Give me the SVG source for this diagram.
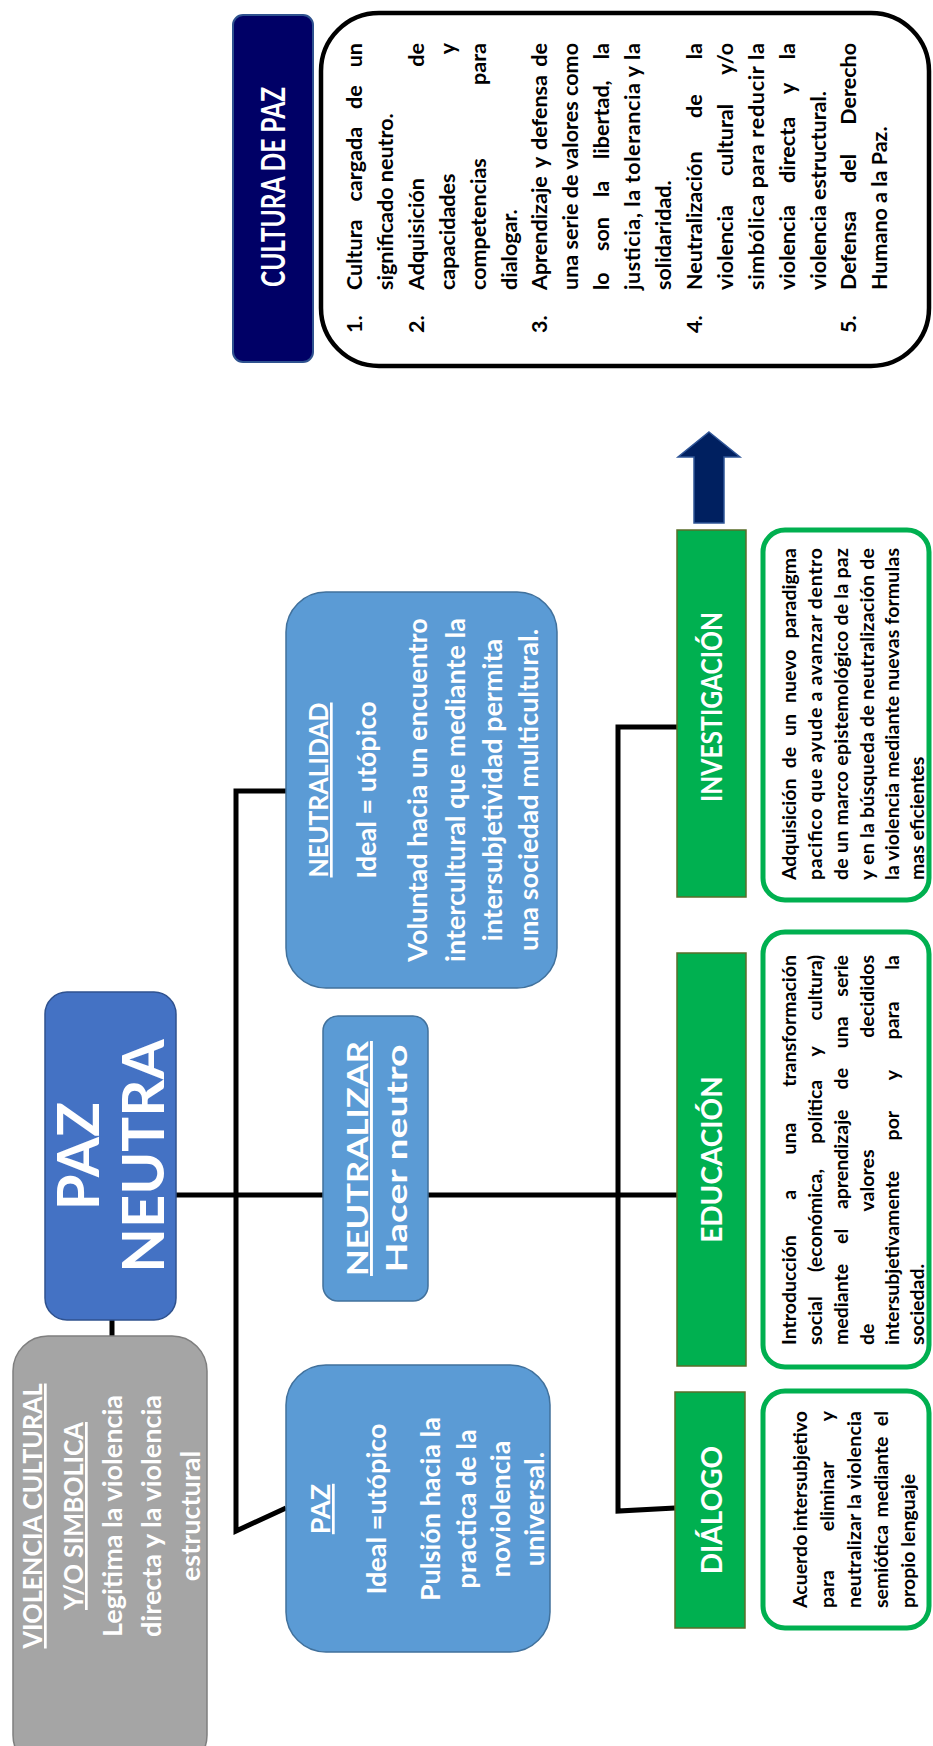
<svg xmlns="http://www.w3.org/2000/svg" width="933" height="1746" viewBox="0 0 933 1746">
<style>
.t{font-family:Lato,'Open Sans','Liberation Sans',sans-serif;font-weight:700}
.w{fill:#fff}
.k{fill:#000}
.c{text-anchor:middle}
.e{text-anchor:end}
.u{text-decoration:underline}
.big{font-size:21.5px}
.sm{font-size:19.5px}
.bl{font-size:27px}
.hd{font-size:28px}
.blue{fill:#5B9BD5;stroke:#41719C;stroke-width:1.5}
.gh{fill:#00B050;stroke:#5A6E2A;stroke-width:1.5}
.gb{fill:#fff;stroke:#00B050;stroke-width:5}
.ln{fill:none;stroke:#000;stroke-width:5;stroke-linejoin:miter}
</style>
<rect width="933" height="1746" fill="#fff"/>

<g id="connectors" class="ln">
<path d="M176,1195 H678"/>
<path d="M286,791 H236 V1531 L286,1508"/>
<path d="M677,727 H618 V1511 L675,1508"/>
<path d="M112,1318 V1338"/>
</g>

<g id="cultura-title" transform="translate(233,362) rotate(-90)">
<rect x="0" y="0" width="347" height="80" rx="10" fill="#000066" stroke="#2F528F" stroke-width="2"/>
<text class="t w c" x="175" y="52" font-size="32" textLength="200" lengthAdjust="spacingAndGlyphs">CULTURA DE PAZ</text>
</g>

<g id="cultura-list" transform="translate(321,366) rotate(-90)">
<rect x="0" y="0" width="353" height="608" rx="58" fill="#fff" stroke="#000" stroke-width="4.5"/>
<g class="t k big">
<text x="33" y="41">1.</text>
<text x="76" y="41">Cultura<tspan x="164.5">cargada</tspan><tspan x="257">de</tspan></text><text class="e" x="323" y="41">un</text>
<text x="76" y="72">significado neutro.</text>
<text x="33" y="103">2.</text>
<text x="76" y="103">Adquisición</text><text class="e" x="323" y="103">de</text>
<text x="76" y="134">capacidades</text><text class="e" x="323" y="134">y</text>
<text x="76" y="165">competencias</text><text class="e" x="323" y="165">para</text>
<text x="76" y="196">dialogar.</text>
<text x="33" y="226">3.</text>
<text x="76" y="226">Aprendizaje<tspan x="198">y</tspan><tspan x="216">defensa</tspan></text><text class="e" x="323" y="226">de</text>
<text x="76" y="257" textLength="247" lengthAdjust="spacing">una serie de valores como</text>
<text x="76" y="288">lo<tspan x="115">son</tspan><tspan x="169">la</tspan><tspan x="207">libertad,</tspan></text><text class="e" x="323" y="288">la</text>
<text x="76" y="319" textLength="247" lengthAdjust="spacing">justicia, la tolerancia y la</text>
<text x="76" y="350">solidaridad.</text>
<text x="33" y="381">4.</text>
<text x="76" y="381">Neutralización<tspan x="248">de</tspan></text><text class="e" x="323" y="381">la</text>
<text x="76" y="412">violencia<tspan x="190">cultural</tspan></text><text class="e" x="323" y="412">y/o</text>
<text x="76" y="443" textLength="247" lengthAdjust="spacing">simbólica para reducir la</text>
<text x="76" y="474">violencia<tspan x="183">directa</tspan><tspan x="272">y</tspan></text><text class="e" x="323" y="474">la</text>
<text x="76" y="505">violencia estructural.</text>
<text x="33" y="535">5.</text>
<text x="76" y="535">Defensa<tspan x="183">del</tspan></text><text class="e" x="323" y="535">Derecho</text>
<text x="76" y="566">Humano a la Paz.</text>
</g>
</g>

<g id="arrow">
<polygon points="709,432 740,457 724,457 724,523 694,523 694,457 678,457" fill="#002060" stroke="#2F5597" stroke-width="1.5"/>
</g>

<g id="paz-neutra" transform="translate(45,1320) rotate(-90)">
<rect x="0" y="0" width="328" height="131" rx="22" fill="#4472C4" stroke="#2F528F" stroke-width="1.5"/>
<text class="t w c" x="164" y="54" font-size="58">PAZ</text>
<text class="t w c" x="164" y="119" font-size="58">NEUTRA</text>
</g>

<g id="violencia-cultural" transform="translate(13,1770) rotate(-90)">
<rect x="0" y="0" width="434" height="194" rx="35" fill="#A5A5A5" stroke="#7F7F7F" stroke-width="1.5"/>
<g class="t w c bl">
<text class="u" x="254" y="29" textLength="265" lengthAdjust="spacingAndGlyphs">VIOLENCIA CULTURAL</text>
<text class="u" x="254" y="70" textLength="188" lengthAdjust="spacingAndGlyphs">Y/O SIMBOLICA</text>
<text x="254" y="109">Legitima la violencia</text>
<text x="254" y="148">directa y la violencia</text>
<text x="254" y="187">estructural</text>
</g>
</g>

<g id="neutralidad" transform="translate(286,988) rotate(-90)">
<rect class="blue" x="0" y="0" width="396" height="271" rx="40"/>
<g class="t w c bl">
<text class="u" x="198" y="42" textLength="175" lengthAdjust="spacingAndGlyphs">NEUTRALIDAD</text>
<text x="198" y="90">Ideal = utópico</text>
<text x="198" y="141">Voluntad hacia un encuentro</text>
<text x="198" y="179">intercultural que mediante la</text>
<text x="198" y="216">intersubjetividad permita</text>
<text x="198" y="252">una sociedad multicultural.</text>
</g>
</g>

<g id="neutralizar" transform="translate(323,1301) rotate(-90)">
<rect class="blue" x="0" y="0" width="285" height="105" rx="15"/>
<g class="t w c" font-size="29">
<text class="u" x="142.5" y="45" textLength="235" lengthAdjust="spacingAndGlyphs">NEUTRALIZAR</text>
<text x="142.5" y="84" textLength="228" lengthAdjust="spacingAndGlyphs">Hacer neutro</text>
</g>
</g>

<g id="paz" transform="translate(286,1652) rotate(-90)">
<rect class="blue" x="0" y="0" width="287" height="264" rx="40"/>
<g class="t w c bl">
<text class="u" x="143" y="44">PAZ</text>
<text x="143" y="100">Ideal =utópico</text>
<text x="143" y="154">Pulsión hacia la</text>
<text x="143" y="190">practica de la</text>
<text x="143" y="224">noviolencia</text>
<text x="143" y="258">universal.</text>
</g>
</g>

<g id="investigacion-header" transform="translate(677,897) rotate(-90)">
<rect class="gh" x="0" y="0" width="367" height="69"/>
<text class="t w c hd" x="190" y="45" textLength="190" lengthAdjust="spacingAndGlyphs">INVESTIGACIÓN</text>
</g>
<g id="educacion-header" transform="translate(677,1366) rotate(-90)">
<rect class="gh" x="0" y="0" width="413" height="69"/>
<text class="t w c hd" x="206.5" y="45">EDUCACIÓN</text>
</g>
<g id="dialogo-header" transform="translate(675,1628) rotate(-90)">
<rect class="gh" x="0" y="0" width="236" height="70"/>
<text class="t w c hd" x="118" y="47">DIÁLOGO</text>
</g>

<g id="investigacion-text" transform="translate(763,900) rotate(-90)">
<rect class="gb" x="0" y="0" width="370" height="166" rx="22"/>
<g class="t k sm">
<text x="20" y="33">Adquisición<tspan x="131.7">de</tspan><tspan x="164">un</tspan><tspan x="197">nuevo</tspan></text><text class="e" x="352" y="33">paradigma</text>
<text x="20" y="59" textLength="332" lengthAdjust="spacing">pacifico que ayude a avanzar dentro</text>
<text x="20" y="85" textLength="332" lengthAdjust="spacing">de un marco epistemológico de la paz</text>
<text x="20" y="111" textLength="332" lengthAdjust="spacing">y en la búsqueda de neutralización de</text>
<text x="20" y="136" textLength="332" lengthAdjust="spacing">la violencia mediante nuevas formulas</text>
<text x="20" y="161">mas eficientes</text>
</g>
</g>

<g id="educacion-text" transform="translate(763,1367) rotate(-90)">
<rect class="gb" x="0" y="0" width="435" height="166" rx="22"/>
<g class="t k sm">
<text x="22" y="33">Introducción<tspan x="167.2">a</tspan><tspan x="212.4">una</tspan></text><text class="e" x="412" y="33">transformación</text>
<text x="22" y="59">social<tspan x="95.1">(económica,</tspan><tspan x="223.3">política</tspan><tspan x="310.6">y</tspan></text><text class="e" x="412" y="59">cultura)</text>
<text x="22" y="85">mediante<tspan x="123">el</tspan><tspan x="157.9">aprendizaje</tspan><tspan x="277.6">de</tspan><tspan x="318.8">una</tspan></text><text class="e" x="412" y="85">serie</text>
<text x="22" y="111">de<tspan x="155.5">valores</tspan></text><text class="e" x="412" y="111">decididos</text>
<text x="22" y="136">intersubjetivamente<tspan x="226.6">por</tspan><tspan x="286.8">y</tspan><tspan x="327.6">para</tspan></text><text class="e" x="412" y="136">la</text>
<text x="22" y="161">sociedad.</text>
</g>
</g>

<g id="dialogo-text" transform="translate(763,1628) rotate(-90)">
<rect class="gb" x="0" y="0" width="237" height="166" rx="22"/>
<g class="t k sm">
<text x="20" y="44">Acuerdo</text><text class="e" x="217" y="44">intersubjetivo</text>
<text x="20" y="71">para<tspan x="96.8">eliminar</tspan></text><text class="e" x="217" y="71">y</text>
<text x="20" y="98" textLength="197" lengthAdjust="spacing">neutralizar la violencia</text>
<text x="20" y="125">semiótica<tspan x="110.4">mediante</tspan></text><text class="e" x="217" y="125">el</text>
<text x="20" y="152">propio lenguaje</text>
</g>
</g>
</svg>
